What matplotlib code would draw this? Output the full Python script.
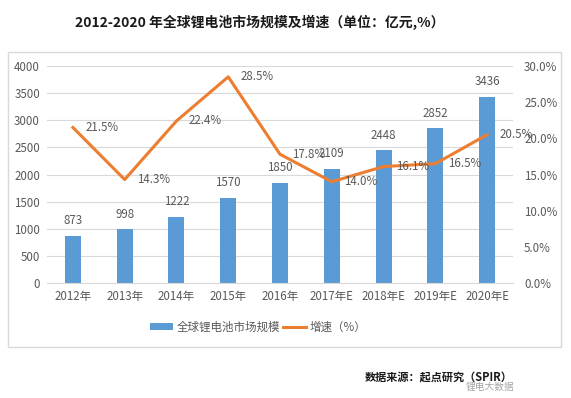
import matplotlib.pyplot as plt
from matplotlib.patches import Rectangle

plt.rcParams['font.family'] = ['Noto Sans CJK SC', 'DejaVu Sans']

years = ['2012年', '2013年', '2014年', '2015年', '2016年', '2017年E', '2018年E', '2019年E', '2020年E']
market_size = [873, 998, 1222, 1570, 1850, 2109, 2448, 2852, 3436]
growth = [21.5, 14.3, 22.4, 28.5, 17.8, 14.0, 16.1, 16.5, 20.5]

bar_color = '#5B9BD5'
line_color = '#ED7D31'
text_color = '#595959'

fig = plt.figure(figsize=(5.71, 3.98), dpi=100)
W, H = 571, 398

# outer chart frame
fig.patches.append(Rectangle((8 / W, 1 - 347 / H), (561 - 8) / W, (347 - 52) / H,
                             transform=fig.transFigure, fill=False,
                             edgecolor='#D9D9D9', linewidth=1))

ax = fig.add_axes([47 / W, 1 - 283 / H, (513 - 47) / W, (283 - 66) / H])
x = list(range(len(years)))
ax.bar(x, market_size, width=0.31, color=bar_color, label='全球锂电池市场规模', zorder=2)
ax.set_ylim(0, 4000)
ax.set_yticks(range(0, 4001, 500))
ax.set_xlim(-0.5, len(years) - 0.5)
ax.set_xticks(x)
ax.set_xticklabels(years)
ax.grid(axis='y', color='#D9D9D9', linewidth=0.8, zorder=0)
for s in ['top', 'right', 'left']:
    ax.spines[s].set_visible(False)
ax.spines['bottom'].set_color('#D9D9D9')
ax.tick_params(length=0, labelsize=8.3, colors=text_color, pad=5)
for xi, v in zip(x, market_size):
    ax.annotate(str(v), (xi, v), xytext=(0, 6), textcoords='offset points',
                ha='center', va='bottom', fontsize=8.3, color=text_color)

ax2 = ax.twinx()
ax2.plot(x, growth, color=line_color, linewidth=2.2, label='增速（%）', zorder=3)
ax2.set_ylim(0, 30)
ax2.set_yticks(range(0, 31, 5))
ax2.set_yticklabels([f'{v:.1f}%' for v in range(0, 31, 5)])
for s in ['top', 'right', 'left', 'bottom']:
    ax2.spines[s].set_visible(False)
ax2.tick_params(length=0, labelsize=8.3, colors=text_color, pad=8)
for xi, v in zip(x, growth):
    ax2.annotate(f'{v:.1f}%', (xi, v), xytext=(9, 0), textcoords='offset points',
                 ha='left', va='center', fontsize=8.3, color=text_color)

h1, l1 = ax.get_legend_handles_labels()
h2, l2 = ax2.get_legend_handles_labels()
fig.legend(h1 + h2, l1 + l2, loc='center', bbox_to_anchor=(258 / W, 1 - 327 / H),
           ncol=2, frameon=False, fontsize=8.3, labelcolor=text_color,
           handlelength=2.0, handleheight=0.5, columnspacing=0.2, handletextpad=0.3)

fig.text(260 / W, 1 - 22 / H, '2012-2020 年全球锂电池市场规模及增速（单位：亿元,%）',
         ha='center', va='center', fontsize=10, fontweight='bold', color='#1a1a1a')
fig.text(513 / W, 1 - 377 / H, '数据来源：起点研究（SPIR）', ha='right', va='center',
         fontsize=8, fontweight='bold', color='#1a1a1a')
fig.text(514 / W, 1 - 387 / H, '锂电大数据', ha='right', va='center',
         fontsize=7, color='#a6a6a6')

fig.savefig('out.png', dpi=100)
